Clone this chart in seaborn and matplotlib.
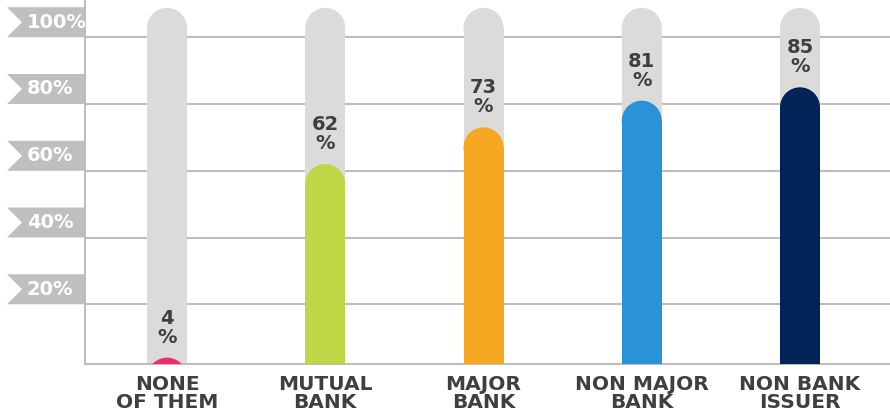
import matplotlib
matplotlib.use("Agg")
import matplotlib.pyplot as plt
import matplotlib.transforms as mtransforms
from matplotlib.patches import Ellipse, Polygon
import seaborn as sns
import pandas as pd

categories = ["NONE\nOF THEM", "MUTUAL\nBANK", "MAJOR\nBANK", "NON MAJOR\nBANK", "NON BANK\nISSUER"]
values = [4, 62, 73, 81, 85]
value_labels = ["4\n%", "62\n%", "73\n%", "81\n%", "85\n%"]
colors = ["#ee2d6b", "#bfd747", "#f7a823", "#2a92d6", "#012458"]
y_ticks = [20, 40, 60, 80, 100]
y_tick_labels = ["20%", "40%", "60%", "80%", "100%"]
track_top = 108.8

sns.set_theme(style="white")
plt.rcParams["font.family"] = ["DejaVu Sans"]

W, H, DPI = 890, 417, 100
fig = plt.figure(figsize=(W / DPI, H / DPI), dpi=DPI)
ax = fig.add_axes([85 / W, (417 - 364) / H, (890 - 85) / W, 364 / H])

df = pd.DataFrame({"cat": categories, "val": values})
track_df = pd.DataFrame({"cat": categories, "val": [track_top] * len(categories)})

bw = 40 / 158.25
ymin, ymax = 2.1, 111.16
px_per_unit = 3.3375
cap_h = 40 / px_per_unit

def round_tops(patches, color_list):
    for p, c in zip(patches, color_list):
        x0, w, h = p.get_x(), p.get_width(), p.get_height()
        p.set_height(h - cap_h / 2)
        p.set_y(0)
        e = Ellipse((x0 + w / 2, h - cap_h / 2), w, cap_h, facecolor=c,
                    edgecolor="none", zorder=p.get_zorder())
        ax.add_patch(e)

sns.barplot(data=track_df, x="cat", y="val", color="#dcdbd9", width=bw,
            saturation=1, ax=ax, zorder=2)
track_patches = list(ax.patches)
for p in track_patches:
    p.set_edgecolor("none")
round_tops(track_patches, ["#dcdbd9"] * len(categories))

n_before = len(ax.patches)
sns.barplot(data=df, x="cat", y="val", hue="cat", palette=colors, width=bw,
            saturation=1, legend=False, dodge=False, ax=ax, zorder=3)
bar_patches = [p for p in ax.patches[n_before:] if p.get_height() > 0]
bar_patches.sort(key=lambda p: p.get_x())
for p in bar_patches:
    p.set_edgecolor("none")
round_tops(bar_patches, colors)

for i, (v, lab) in enumerate(zip(values, value_labels)):
    ax.annotate(lab, (i, v), xytext=(0, 8), textcoords="offset points",
                ha="center", va="bottom", fontsize=14, fontweight="bold",
                color="#3f3f3f", linespacing=1.0, zorder=5)

ax.set_xlim(-(167 - 85) / 158.25, 4 + (890 - 800) / 158.25)
ax.set_ylim(ymin, ymax)
ax.set_yticks(y_ticks)
ax.set_yticklabels([])
ax.tick_params(axis="y", length=0)
ax.tick_params(axis="x", length=0, pad=8)
ax.set_xticks(range(len(categories)))
ax.set_xticklabels(categories, fontsize=14.5, fontweight="bold", color="#3f3f3f",
                   linespacing=0.95)
ax.set_xlabel("")
ax.set_ylabel("")
ax.yaxis.grid(True, color="#bdbdbd", linewidth=1.5)
ax.xaxis.grid(False)
ax.set_axisbelow(True)
for s in ["top", "right"]:
    ax.spines[s].set_visible(False)
for s in ["left", "bottom"]:
    ax.spines[s].set_color("#bdbdbd")
    ax.spines[s].set_linewidth(1.5)

# arrow-shaped tags for y labels
trans = mtransforms.blended_transform_factory(fig.transFigure, ax.transData)
tag_h = 30 / px_per_unit
for t, lab in zip(y_ticks, y_tick_labels):
    pts = [(7 / W, t + tag_h), (85 / W, t + tag_h), (85 / W, t), (7 / W, t),
           (22 / W, t + tag_h / 2)]
    poly = Polygon(pts, closed=True, facecolor="#bfbfbf", edgecolor="none",
                   transform=trans, clip_on=False, zorder=1)
    ax.add_patch(poly)
    ax.text(27 / W, t + tag_h / 2, lab, transform=trans, ha="left", va="center",
            fontsize=14, fontweight="bold", color="white", clip_on=False)

fig.savefig("out.png", dpi=DPI)
